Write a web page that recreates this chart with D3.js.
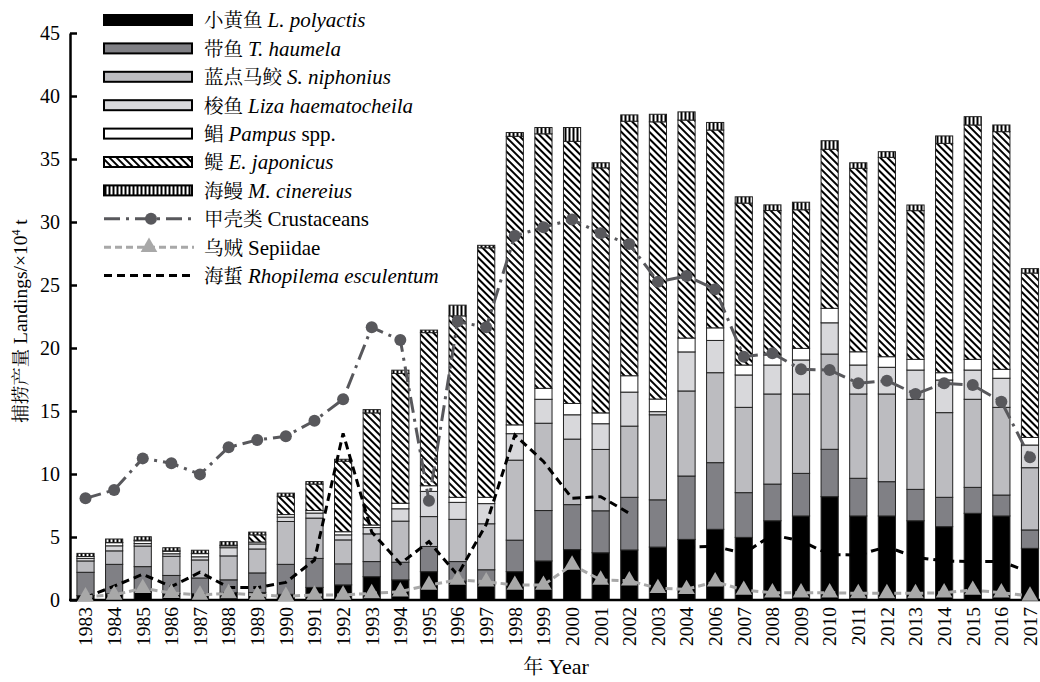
<!DOCTYPE html>
<html><head><meta charset="utf-8">
<script src="https://cdn.jsdelivr.net/npm/d3@7/dist/d3.min.js"></script>
<style>
html,body{margin:0;padding:0;background:#fff;}
text{font-family:"Liberation Serif","Times New Roman","Noto Serif CJK SC","Noto Sans CJK SC",serif;fill:#000;}
</style></head>
<body><svg id="chart" width="1040" height="682"></svg>
<script>
const years = ["1983","1984","1985","1986","1987","1988","1989","1990","1991","1992","1993","1994","1995","1996","1997","1998","1999","2000","2001","2002","2003","2004","2006","2007","2008","2009","2010","2011","2012","2013","2014","2015","2016","2017"];
// stacked bar series (×10^4 t), bottom to top
const lPolyactis  = [0.35,0.5,0.65,0.5,0.5,0.6,0.6,0.45,1.0,1.2,1.85,1.6,2.25,1.5,1.2,2.25,3.1,4.0,3.75,3.97,4.2,4.81,5.61,4.97,6.29,6.67,8.2,6.67,6.67,6.29,5.82,6.88,6.67,4.1];
const tHaumela    = [1.85,2.33,2.0,1.45,1.25,1.0,1.55,2.38,2.3,1.67,1.2,1.4,2.0,1.55,1.2,2.5,4.0,3.57,3.33,4.18,3.75,5.03,5.29,3.55,2.91,3.38,3.76,2.99,2.72,2.49,2.33,2.06,1.66,1.46];
const sNiphonius  = [0.9,1.07,1.63,1.52,1.43,1.9,1.9,3.4,3.2,1.9,2.2,3.26,2.37,3.35,3.65,6.35,6.93,5.2,4.87,5.65,6.75,6.75,7.14,6.77,7.15,6.3,7.56,6.69,6.96,7.15,6.72,6.99,6.96,4.94];
const lHaemato    = [0.2,0.4,0.2,0.2,0.25,0.65,0.4,0.35,0.4,0.4,0.5,0.98,2.0,1.35,1.6,2.1,1.9,1.93,2.04,2.7,0.25,3.1,2.56,2.57,2.3,2.7,2.48,2.3,2.12,2.32,2.59,2.32,2.31,1.8];
const pampus      = [0.15,0.25,0.22,0.2,0.25,0.15,0.15,0.2,0.2,0.25,0.2,0.44,0.45,0.4,0.5,0.7,0.87,0.9,0.86,1.3,1.0,1.1,1.0,0.79,0.8,0.92,1.15,1.05,0.84,0.85,0.58,0.85,0.71,0.6];
const eJaponicus  = [0,0.02,0.05,0.03,0.02,0.05,0.57,1.45,2.1,5.6,8.9,10.3,12.15,14.4,19.8,22.9,20.2,20.8,19.45,20.2,22.0,17.3,15.7,12.85,11.46,11.0,12.62,14.56,15.82,11.8,18.2,18.6,18.86,13.05];
const mCinereius  = [0.25,0.27,0.27,0.25,0.25,0.28,0.22,0.25,0.2,0.15,0.26,0.26,0.2,0.85,0.2,0.3,0.5,1.1,0.4,0.5,0.6,0.65,0.6,0.5,0.45,0.6,0.68,0.44,0.45,0.45,0.59,0.66,0.53,0.35];
// line series
const crustaceans = [8.07,8.73,11.24,10.85,9.97,12.12,12.7,13.0,14.23,15.93,21.64,20.63,7.88,22.1,21.64,28.9,29.58,30.2,29.1,28.25,25.26,25.71,24.66,19.31,19.58,18.31,18.25,17.2,17.41,16.35,17.2,17.06,15.74,11.32];
const sepiidae    = [0.26,0.4,0.93,0.55,0.4,0.53,0.4,0.3,0.4,0.4,0.53,0.66,1.19,1.59,1.45,1.19,1.19,2.78,1.59,1.53,0.93,0.85,1.45,0.79,0.58,0.58,0.58,0.53,0.53,0.53,0.58,0.79,0.58,0.32];
const rhopilema   = [0.2,1.1,2.04,1.06,2.2,1.0,0.98,1.4,3.17,13.23,5.4,2.88,4.63,1.98,6.0,13.1,11.0,8.07,8.2,6.88,null,4.2,4.25,3.7,5.16,4.7,3.6,3.57,4.23,3.39,3.1,3.05,3.05,2.2];
const yTicks = [0,5,10,15,20,25,30,35,40,45];

const barKeys = ["lp","th","sn","lh","pa","ej","mc"];
const barSeries = {lp:lPolyactis, th:tHaumela, sn:sNiphonius, lh:lHaemato, pa:pampus, ej:eJaponicus, mc:mCinereius};
const barFill = {lp:"#000000", th:"#808085", sn:"#bcbcc0", lh:"#d8d8db", pa:"#ffffff", ej:"url(#hatch)", mc:"url(#vstripe)"};
const CJK = "'Noto Serif CJK SC','Noto Sans CJK SC',sans-serif";

const svg = d3.select("#chart");
svg.append("rect").attr("width",1040).attr("height",682).attr("fill","#fff");
const defs = svg.append("defs");
const hp = defs.append("pattern").attr("id","hatch").attr("patternUnits","userSpaceOnUse")
  .attr("width",5).attr("height",5).attr("patternTransform","rotate(-45)");
hp.append("rect").attr("width",5).attr("height",5).attr("fill","#fff");
hp.append("rect").attr("x",0).attr("y",0).attr("width",2).attr("height",5).attr("fill","#000");
const vp = defs.append("pattern").attr("id","vstripe").attr("patternUnits","userSpaceOnUse")
  .attr("width",4).attr("height",4);
vp.append("rect").attr("width",4).attr("height",4).attr("fill","#fff");
vp.append("rect").attr("x",0.5).attr("width",2).attr("height",4).attr("fill","#000");

const x = d3.scaleBand().domain(years).range([71.2,1044.3]).paddingInner(0.4).paddingOuter(0.2);
const y = d3.scaleLinear().domain([0,45]).range([600,33]);

// bars
const table = years.map((yr,i)=>{const o={year:yr}; barKeys.forEach(k=>o[k]=barSeries[k][i]); return o;});
const stacked = d3.stack().keys(barKeys)(table);
const gBars = svg.append("g");
stacked.forEach(layer=>{
  gBars.append("g").selectAll("rect").data(layer).join("rect")
    .attr("x",d=>x(d.data.year)).attr("width",x.bandwidth())
    .attr("y",d=>y(d[1])).attr("height",d=>Math.max(0,y(d[0])-y(d[1])))
    .attr("fill",barFill[layer.key]).attr("stroke","#222").attr("stroke-width",1);
});

// axes
const yAxis = d3.axisLeft(y).tickValues(yTicks).tickSizeInner(-7).tickSizeOuter(0).tickPadding(10);
const gy = svg.append("g").attr("transform","translate(70,0)").call(yAxis);
gy.select(".domain").attr("stroke","#000").attr("stroke-width",2.5);
gy.selectAll(".tick line").attr("stroke","#000").attr("stroke-width",2.5);
gy.selectAll(".tick text").attr("font-size",20).attr("font-family","Liberation Serif");

const xAxis = d3.axisBottom(x).tickSize(0).tickPadding(6);
const gx = svg.append("g").attr("transform","translate(0,600)").call(xAxis);
gx.select(".domain").remove();
svg.append("line").attr("x1",69).attr("x2",1042).attr("y1",600).attr("y2",600).attr("stroke","#000").attr("stroke-width",2.5);
gx.selectAll(".tick text").attr("font-size",19.5).attr("font-family","Liberation Serif")
  .attr("transform","rotate(-90)").attr("text-anchor","end").attr("dy","0.35em").attr("x",-7).attr("y",0);

// lines
const lineGen = arr => d3.line().defined((d,i)=>arr[i]!==null).x((d,i)=>x(years[i])+x.bandwidth()/2).y((d,i)=>y(arr[i]))(arr);
svg.append("path").attr("d",lineGen(rhopilema)).attr("fill","none").attr("stroke","#000").attr("stroke-width",3).attr("stroke-dasharray","8,5");
svg.append("path").attr("d",lineGen(sepiidae)).attr("fill","none").attr("stroke","#a8a8a8").attr("stroke-width",3).attr("stroke-dasharray","7,4");
const tri = d3.symbol().type(d3.symbolTriangle).size(120);
svg.append("g").selectAll("path").data(sepiidae).join("path")
  .attr("d",tri).attr("transform",(d,i)=>`translate(${x(years[i])+x.bandwidth()/2},${y(d)})`).attr("fill","#a8a8a8");
svg.append("path").attr("d",lineGen(crustaceans)).attr("fill","none").attr("stroke","#58585c").attr("stroke-width",3).attr("stroke-dasharray","16,6,3,6");
svg.append("g").selectAll("circle").data(crustaceans).join("circle")
  .attr("cx",(d,i)=>x(years[i])+x.bandwidth()/2).attr("cy",d=>y(d)).attr("r",6).attr("fill","#58585c");

// legend
const legendItems = [
  {type:"bar",key:"lp",cn:"小黄鱼 ",lat:"L. polyactis",plain:""},
  {type:"bar",key:"th",cn:"带鱼 ",lat:"T. haumela",plain:""},
  {type:"bar",key:"sn",cn:"蓝点马鲛 ",lat:"S. niphonius",plain:""},
  {type:"bar",key:"lh",cn:"梭鱼 ",lat:"Liza haematocheila",plain:""},
  {type:"bar",key:"pa",cn:"鲳 ",lat:"Pampus",plain:" spp."},
  {type:"bar",key:"ej",cn:"鳀  ",lat:"E. japonicus",plain:""},
  {type:"bar",key:"mc",cn:"海鳗 ",lat:"M. cinereius",plain:""},
  {type:"crus",cn:"甲壳类 ",lat:"",plain:"Crustaceans"},
  {type:"sep",cn:"乌贼 ",lat:"",plain:"Sepiidae"},
  {type:"rho",cn:"海蜇 ",lat:"Rhopilema esculentum",plain:""}
];
const lg = svg.append("g");
legendItems.forEach((it,i)=>{
  const cy = 20 + i*28.4;
  if(it.type==="bar"){
    lg.append("rect").attr("x",104).attr("y",cy-5).attr("width",88).attr("height",10)
      .attr("fill",barFill[it.key]).attr("stroke","#000").attr("stroke-width",2);
  } else if(it.type==="crus"){
    lg.append("line").attr("x1",104).attr("x2",194).attr("y1",cy).attr("y2",cy).attr("stroke","#58585c").attr("stroke-width",3).attr("stroke-dasharray","16,6,3,6");
    lg.append("circle").attr("cx",151).attr("cy",cy).attr("r",6).attr("fill","#58585c");
  } else if(it.type==="sep"){
    lg.append("line").attr("x1",104).attr("x2",194).attr("y1",cy).attr("y2",cy).attr("stroke","#a8a8a8").attr("stroke-width",3).attr("stroke-dasharray","7,4");
    lg.append("path").attr("d",tri).attr("transform",`translate(149,${cy})`).attr("fill","#a8a8a8");
  } else {
    lg.append("line").attr("x1",104).attr("x2",194).attr("y1",cy).attr("y2",cy).attr("stroke","#000").attr("stroke-width",3).attr("stroke-dasharray","8,5");
  }
  const t = lg.append("text").attr("x",204).attr("y",cy).attr("dy","0.35em").attr("font-size",21);
  t.append("tspan").text(it.cn).attr("font-family",CJK).attr("font-size",19.5);
  if(it.lat) t.append("tspan").text(it.lat).attr("font-style","italic");
  if(it.plain) t.append("tspan").text(it.plain);
});

// axis titles
const yt = svg.append("text").attr("transform","translate(27,321) rotate(-90)").attr("text-anchor","middle").attr("font-size",19.5);
yt.append("tspan").text("捕捞产量 ").attr("font-family",CJK).attr("font-size",18.5);
yt.append("tspan").text("Landings/×10");
yt.append("tspan").text("4").attr("font-size",12).attr("dy",-7);
yt.append("tspan").text(" t").attr("dy",7);

const xt = svg.append("text").attr("x",556).attr("y",674).attr("text-anchor","middle").attr("font-size",22);
xt.append("tspan").text("年 ").attr("font-family",CJK).attr("font-size",20);
xt.append("tspan").text("Year");
</script></body></html>
